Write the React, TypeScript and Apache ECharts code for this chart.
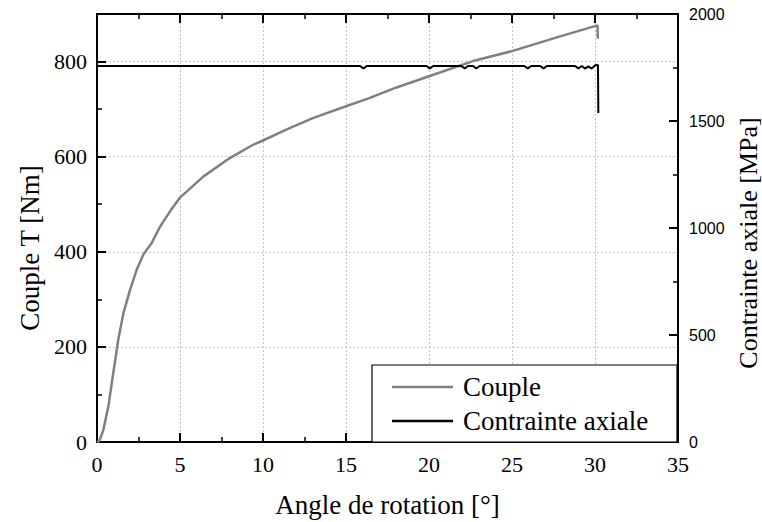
import React, { useEffect, useRef } from "react";
import * as echarts from "echarts";

// Couple T [Nm] vs angle [°]
const angleCouple = [0, 0.15, 0.38, 0.68, 0.98, 1.28, 1.59, 1.99, 2.39, 2.79, 2.99, 3.29, 3.49, 3.8, 4.4, 5.0, 6.4, 8.0, 9.4, 10, 11.4, 13, 15, 16.4, 18, 20, 22.65, 25, 27.9, 30.15, 30.17];
const couple = [0, 3, 25, 74, 145, 215, 271, 320, 362, 394, 404, 418, 432, 453, 485, 514, 558, 597, 625, 634, 657, 681, 706, 723, 745, 769, 801, 822, 853, 876, 848];

// Contrainte axiale [MPa] vs angle [°]
const angleStress = [0, 15.85, 16.05, 16.25, 19.85, 20.05, 20.25, 21.95, 22.15, 22.35, 22.65, 22.85, 23.05, 25.75, 25.95, 26.15, 26.7, 26.9, 27.1, 28.8, 29.0, 29.2, 29.4, 29.6, 29.8, 30.0, 30.18, 30.2];
const stress = [1757, 1757, 1745, 1757, 1757, 1745, 1757, 1757, 1745, 1757, 1757, 1745, 1757, 1757, 1745, 1757, 1757, 1745, 1757, 1757, 1745, 1757, 1745, 1755, 1745, 1760, 1762, 1537];

const seriesNames = ["Couple", "Contrainte axiale"];
const xTitle = "Angle de rotation [°]";
const yLeftTitle = "Couple T [Nm]";
const yRightTitle = "Contrainte axiale [MPa]";

const SERIF = "'Liberation Serif', 'Times New Roman', serif";
const SANS = "'Liberation Sans', Arial, sans-serif";

export default function App() {
  const ref = useRef<HTMLDivElement>(null);
  useEffect(() => {
    if (!ref.current) return;
    const chart = echarts.init(ref.current, undefined, { renderer: "svg" });
    const gridLine = { show: true, lineStyle: { color: "#c4c4c4", type: [2, 2] as any, width: 1 } };
    const axisLine = { show: true, onZero: false, lineStyle: { color: "#000", width: 2 } };
    chart.setOption({
      animation: false,
      backgroundColor: "#fff",
      grid: { left: 97, right: 84, top: 14, bottom: 80, containLabel: false, outerBoundsMode: "none" },
      xAxis: [
        {
          type: "value", position: "bottom", min: 0, max: 35, interval: 5,
          name: xTitle, nameLocation: "middle", nameGap: 49,
          nameTextStyle: { fontFamily: SERIF, fontSize: 27, color: "#000" },
          axisLine,
          axisTick: { show: true, inside: true, length: 9, lineStyle: { color: "#000", width: 2 } },
          minorTick: { show: true, splitNumber: 2, length: 5, lineStyle: { color: "#000", width: 1.5 } },
          axisLabel: { fontFamily: SERIF, fontSize: 22, color: "#000", margin: 11 },
          splitLine: gridLine,
        },
        {
          type: "value", position: "top", min: 0, max: 35, interval: 5,
          axisLine,
          axisTick: { show: true, inside: true, length: 9, lineStyle: { color: "#000", width: 2 } },
          minorTick: { show: true, splitNumber: 2, length: 5, lineStyle: { color: "#000", width: 1.5 } },
          axisLabel: { show: false },
          splitLine: { show: false },
        },
      ],
      yAxis: [
        {
          type: "value", position: "left", min: 0, max: 900, interval: 200,
          name: yLeftTitle, nameLocation: "middle", nameGap: 53,
          nameTextStyle: { fontFamily: SERIF, fontSize: 27, color: "#000", padding: [0, 40, 0, 0] },
          axisLine,
          axisTick: { show: true, inside: true, length: 9, lineStyle: { color: "#000", width: 2 } },
          axisLabel: { fontFamily: SERIF, fontSize: 22, color: "#000", margin: 10, showMaxLabel: false },
          splitLine: gridLine,
        },
        {
          type: "value", position: "right", min: 0, max: 2000, interval: 500,
          name: yRightTitle, nameLocation: "middle", nameGap: 52,
          nameTextStyle: { fontFamily: SERIF, fontSize: 26, color: "#000", padding: [0, 30, 0, 0] },
          axisLine,
          axisTick: { show: true, inside: true, length: 9, lineStyle: { color: "#000", width: 2 } },
          minorTick: { show: true, splitNumber: 2, length: 5, lineStyle: { color: "#000", width: 1.5 } },
          axisLabel: { fontFamily: SANS, fontSize: 16, color: "#000", margin: 11, formatter: (v: number) => String(v) },
          splitLine: { show: false },
        },
        {
          type: "value", position: "left", min: 0, max: 900, interval: 100,
          axisLine: { show: false },
          axisTick: { show: true, inside: true, length: 5, lineStyle: { color: "#000", width: 1.5 } },
          axisLabel: { show: false },
          splitLine: { show: false },
        },
      ],
      legend: {
        show: true,
        orient: "vertical",
        left: 372,
        top: 365,
        z: 10,
        padding: [7, 10, 6, 20],
        itemGap: 4,
        itemWidth: 61,
        itemHeight: 2.5,
        icon: "rect",
        textStyle: { fontFamily: SERIF, fontSize: 27, color: "#000", lineHeight: 30, padding: [0, 0, 0, 5] },
        data: seriesNames,
      },
      graphic: [
        {
          type: "rect",
          z: 9,
          shape: { x: 372, y: 365, width: 305, height: 77 },
          style: { fill: "#fff", stroke: "#000", lineWidth: 1.2 },
        },
      ],
      series: [
        {
          name: seriesNames[0],
          type: "line",
          xAxisIndex: 0,
          yAxisIndex: 0,
          showSymbol: false,
          symbol: "none",
          color: "#808080",
          lineStyle: { color: "#808080", width: 2.5 },
          data: angleCouple.map((a, i) => [a, couple[i]]),
        },
        {
          name: seriesNames[1],
          type: "line",
          xAxisIndex: 0,
          yAxisIndex: 1,
          showSymbol: false,
          symbol: "none",
          color: "#000",
          lineStyle: { color: "#000", width: 2 },
          data: angleStress.map((a, i) => [a, stress[i]]),
        },
      ],
    });
    return () => chart.dispose();
  }, []);
  return <div ref={ref} style={{ position: "fixed", left: 0, top: 0, width: 762, height: 522 }} />;
}
